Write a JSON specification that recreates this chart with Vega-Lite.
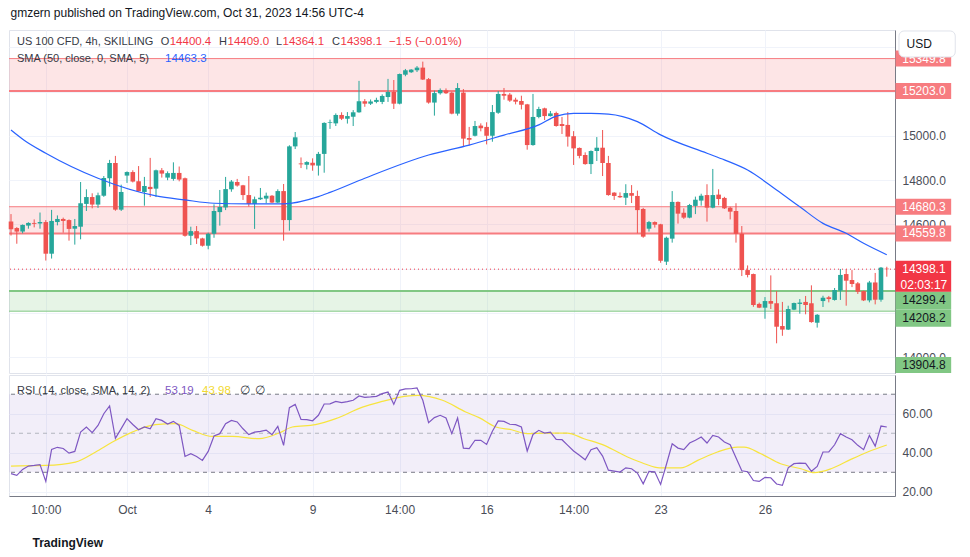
{
"$schema":"https://vega.github.io/schema/vega-lite/v6.json",
"background":"white",
"padding":{"left":7,"top":7,"right":5,"bottom":5},
"title":{"text":"gmzern published on TradingView.com, Oct 31, 2023 14:56 UTC-4","anchor":"start","frame":"bounds","font":"Liberation Sans","fontSize":12,"fontWeight":"normal","color":"#131722","offset":9.5,"dx":3},
"spacing":0,
"config":{
"view":{"stroke":"#e0e3eb","strokeWidth":1},
"scale":{"continuousPadding":0},
"axis":{"labelFont":"Liberation Sans","labelFontSize":12,"labelColor":"#131722","gridColor":"#f0f3fa","gridWidth":1,"ticks":false,"domainColor":"#787b86"},
"text":{"font":"Liberation Sans"}
},
"datasets":{
"candles":[
{"i":0,"open":14613,"high":14647,"low":14550,"close":14578},
{"i":1,"open":14584,"high":14588,"low":14513,"close":14568},
{"i":2,"open":14568,"high":14600,"low":14560,"close":14598},
{"i":3,"open":14595,"high":14610,"low":14581,"close":14607},
{"i":4,"open":14607,"high":14623,"low":14587,"close":14603},
{"i":5,"open":14604,"high":14654,"low":14581,"close":14611},
{"i":6,"open":14611,"high":14620,"low":14437,"close":14468},
{"i":7,"open":14468,"high":14666,"low":14446,"close":14616},
{"i":8,"open":14611,"high":14641,"low":14596,"close":14625},
{"i":9,"open":14625,"high":14631,"low":14563,"close":14616},
{"i":10,"open":14620,"high":14623,"low":14527,"close":14580},
{"i":11,"open":14581,"high":14625,"low":14509,"close":14593},
{"i":12,"open":14590,"high":14792,"low":14533,"close":14696},
{"i":13,"open":14693,"high":14759,"low":14661,"close":14724},
{"i":14,"open":14724,"high":14741,"low":14673,"close":14690},
{"i":15,"open":14690,"high":14744,"low":14675,"close":14732},
{"i":16,"open":14730,"high":14819,"low":14725,"close":14810},
{"i":17,"open":14809,"high":14892,"low":14771,"close":14878},
{"i":18,"open":14878,"high":14910,"low":14662,"close":14667},
{"i":19,"open":14667,"high":14780,"low":14661,"close":14747},
{"i":20,"open":14821,"high":14840,"low":14788,"close":14837},
{"i":21,"open":14837,"high":14845,"low":14790,"close":14794},
{"i":22,"open":14795,"high":14864,"low":14748,"close":14750},
{"i":23,"open":14747,"high":14815,"low":14685,"close":14774},
{"i":24,"open":14770,"high":14901,"low":14724,"close":14760},
{"i":25,"open":14762,"high":14848,"low":14724,"close":14845},
{"i":26,"open":14845,"high":14855,"low":14812,"close":14830},
{"i":27,"open":14812,"high":14840,"low":14800,"close":14832},
{"i":28,"open":14806,"high":14881,"low":14798,"close":14833},
{"i":29,"open":14833,"high":14862,"low":14795,"close":14803},
{"i":30,"open":14809,"high":14812,"low":14545,"close":14549},
{"i":31,"open":14549,"high":14590,"low":14507,"close":14570},
{"i":32,"open":14570,"high":14593,"low":14512,"close":14537},
{"i":33,"open":14537,"high":14540,"low":14500,"close":14504},
{"i":34,"open":14504,"high":14563,"low":14488,"close":14558},
{"i":35,"open":14558,"high":14691,"low":14540,"close":14661},
{"i":36,"open":14656,"high":14756,"low":14595,"close":14679},
{"i":37,"open":14677,"high":14815,"low":14665,"close":14760},
{"i":38,"open":14759,"high":14801,"low":14748,"close":14794},
{"i":39,"open":14792,"high":14806,"low":14771,"close":14776},
{"i":40,"open":14777,"high":14779,"low":14711,"close":14733},
{"i":41,"open":14733,"high":14819,"low":14681,"close":14693},
{"i":42,"open":14693,"high":14726,"low":14580,"close":14714},
{"i":43,"open":14714,"high":14765,"low":14711,"close":14721},
{"i":44,"open":14717,"high":14744,"low":14696,"close":14730},
{"i":45,"open":14730,"high":14733,"low":14697,"close":14699},
{"i":46,"open":14699,"high":14759,"low":14697,"close":14751},
{"i":47,"open":14751,"high":14783,"low":14527,"close":14620},
{"i":48,"open":14620,"high":14958,"low":14572,"close":14953},
{"i":49,"open":14953,"high":15018,"low":14941,"close":14994},
{"i":50,"open":14876,"high":14903,"low":14855,"close":14872},
{"i":51,"open":14870,"high":14886,"low":14849,"close":14882},
{"i":52,"open":14879,"high":14899,"low":14843,"close":14867},
{"i":53,"open":14866,"high":14928,"low":14821,"close":14919},
{"i":54,"open":14919,"high":15062,"low":14834,"close":15059},
{"i":55,"open":15059,"high":15074,"low":15032,"close":15062},
{"i":56,"open":15057,"high":15102,"low":15045,"close":15095},
{"i":57,"open":15095,"high":15107,"low":15072,"close":15078},
{"i":58,"open":15078,"high":15108,"low":15056,"close":15090},
{"i":59,"open":15087,"high":15117,"low":15045,"close":15107},
{"i":60,"open":15107,"high":15249,"low":15105,"close":15157},
{"i":61,"open":15157,"high":15167,"low":15132,"close":15146},
{"i":62,"open":15146,"high":15165,"low":15140,"close":15156},
{"i":63,"open":15154,"high":15173,"low":15148,"close":15163},
{"i":64,"open":15154,"high":15188,"low":15144,"close":15181},
{"i":65,"open":15176,"high":15258,"low":15154,"close":15199},
{"i":66,"open":15199,"high":15253,"low":15122,"close":15146},
{"i":67,"open":15146,"high":15282,"low":15143,"close":15280},
{"i":68,"open":15277,"high":15303,"low":15270,"close":15297},
{"i":69,"open":15288,"high":15302,"low":15285,"close":15300},
{"i":70,"open":15297,"high":15316,"low":15289,"close":15309},
{"i":71,"open":15309,"high":15336,"low":15253,"close":15255},
{"i":72,"open":15257,"high":15262,"low":15146,"close":15151},
{"i":73,"open":15151,"high":15205,"low":15092,"close":15194},
{"i":74,"open":15193,"high":15215,"low":15187,"close":15208},
{"i":75,"open":15206,"high":15215,"low":15190,"close":15193},
{"i":76,"open":15196,"high":15200,"low":15098,"close":15101},
{"i":77,"open":15101,"high":15239,"low":15092,"close":15217},
{"i":78,"open":15196,"high":15212,"low":14950,"close":14988},
{"i":79,"open":14991,"high":15041,"low":14958,"close":14983},
{"i":80,"open":15001,"high":15068,"low":14998,"close":15045},
{"i":81,"open":15047,"high":15057,"low":15021,"close":15035},
{"i":82,"open":15041,"high":15062,"low":14962,"close":15001},
{"i":83,"open":15001,"high":15140,"low":14974,"close":15108},
{"i":84,"open":15105,"high":15203,"low":15100,"close":15190},
{"i":85,"open":15190,"high":15217,"low":15164,"close":15182},
{"i":86,"open":15187,"high":15194,"low":15154,"close":15160},
{"i":87,"open":15164,"high":15173,"low":15143,"close":15155},
{"i":88,"open":15158,"high":15182,"low":15120,"close":15141},
{"i":89,"open":15143,"high":15145,"low":14938,"close":14959},
{"i":90,"open":14959,"high":15190,"low":14956,"close":15086},
{"i":91,"open":15086,"high":15132,"low":15080,"close":15122},
{"i":92,"open":15125,"high":15128,"low":15072,"close":15090},
{"i":93,"open":15090,"high":15113,"low":15088,"close":15102},
{"i":94,"open":15104,"high":15110,"low":15042,"close":15045},
{"i":95,"open":15054,"high":15086,"low":15009,"close":15045},
{"i":96,"open":15050,"high":15108,"low":14952,"close":14997},
{"i":97,"open":14999,"high":15022,"low":14869,"close":14944},
{"i":98,"open":14946,"high":14948,"low":14899,"close":14910},
{"i":99,"open":14914,"high":14926,"low":14870,"close":14873},
{"i":100,"open":14873,"high":14935,"low":14828,"close":14932},
{"i":101,"open":14932,"high":14995,"low":14887,"close":14947},
{"i":102,"open":14947,"high":15027,"low":14819,"close":14878},
{"i":103,"open":14878,"high":14910,"low":14730,"close":14733},
{"i":104,"open":14744,"high":14746,"low":14711,"close":14729},
{"i":105,"open":14729,"high":14745,"low":14720,"close":14723},
{"i":106,"open":14721,"high":14782,"low":14688,"close":14742},
{"i":107,"open":14742,"high":14778,"low":14697,"close":14730},
{"i":108,"open":14729,"high":14753,"low":14560,"close":14665},
{"i":109,"open":14670,"high":14675,"low":14540,"close":14545},
{"i":110,"open":14581,"high":14616,"low":14568,"close":14611},
{"i":111,"open":14611,"high":14614,"low":14586,"close":14599},
{"i":112,"open":14601,"high":14603,"low":14427,"close":14436},
{"i":113,"open":14432,"high":14545,"low":14417,"close":14540},
{"i":114,"open":14536,"high":14751,"low":14518,"close":14702},
{"i":115,"open":14702,"high":14704,"low":14604,"close":14649},
{"i":116,"open":14653,"high":14673,"low":14625,"close":14631},
{"i":117,"open":14631,"high":14693,"low":14628,"close":14688},
{"i":118,"open":14684,"high":14726,"low":14647,"close":14712},
{"i":119,"open":14708,"high":14739,"low":14685,"close":14730},
{"i":120,"open":14733,"high":14782,"low":14613,"close":14676},
{"i":121,"open":14676,"high":14851,"low":14673,"close":14733},
{"i":122,"open":14735,"high":14759,"low":14687,"close":14715},
{"i":123,"open":14720,"high":14725,"low":14670,"close":14673},
{"i":124,"open":14676,"high":14680,"low":14623,"close":14658},
{"i":125,"open":14661,"high":14696,"low":14518,"close":14558},
{"i":126,"open":14558,"high":14593,"low":14367,"close":14394},
{"i":127,"open":14394,"high":14415,"low":14361,"close":14372},
{"i":128,"open":14376,"high":14378,"low":14228,"close":14236},
{"i":129,"open":14241,"high":14247,"low":14222,"close":14224},
{"i":130,"open":14224,"high":14272,"low":14174,"close":14254},
{"i":131,"open":14254,"high":14370,"low":14218,"close":14242},
{"i":132,"open":14244,"high":14299,"low":14063,"close":14138},
{"i":133,"open":14141,"high":14250,"low":14097,"close":14125},
{"i":134,"open":14125,"high":14233,"low":14123,"close":14218},
{"i":135,"open":14215,"high":14247,"low":14213,"close":14245},
{"i":136,"open":14241,"high":14263,"low":14197,"close":14247},
{"i":137,"open":14250,"high":14277,"low":14194,"close":14236},
{"i":138,"open":14244,"high":14325,"low":14156,"close":14159},
{"i":139,"open":14156,"high":14195,"low":14134,"close":14192},
{"i":140,"open":14254,"high":14278,"low":14227,"close":14269},
{"i":141,"open":14271,"high":14277,"low":14248,"close":14263},
{"i":142,"open":14259,"high":14313,"low":14256,"close":14304},
{"i":143,"open":14301,"high":14399,"low":14259,"close":14372},
{"i":144,"open":14376,"high":14399,"low":14233,"close":14346},
{"i":145,"open":14349,"high":14394,"low":14317,"close":14331},
{"i":146,"open":14334,"high":14340,"low":14286,"close":14296},
{"i":147,"open":14299,"high":14301,"low":14254,"close":14257},
{"i":148,"open":14257,"high":14345,"low":14248,"close":14338},
{"i":149,"open":14338,"high":14381,"low":14239,"close":14260},
{"i":150,"open":14260,"high":14408,"low":14251,"close":14405},
{"i":151,"open":14400.4,"high":14409.0,"low":14364.1,"close":14398.1}
],
"sma":[
{"i":0,"sma":15027},{"i":2.2,"sma":14982},{"i":6,"sma":14922},{"i":15,"sma":14809},{"i":25,"sma":14729},{"i":30,"sma":14711},{"i":35,"sma":14696},{"i":41,"sma":14693},{"i":47,"sma":14693},{"i":53,"sma":14726},{"i":55,"sma":14745},{"i":61,"sma":14809},{"i":72,"sma":14914},{"i":79,"sma":14959},{"i":85,"sma":15004},{"i":91,"sma":15050},{"i":94,"sma":15090},{"i":97,"sma":15102},{"i":100,"sma":15102},{"i":103,"sma":15099},{"i":108,"sma":15065},{"i":112,"sma":15005},{"i":120,"sma":14922},{"i":123,"sma":14892},{"i":127,"sma":14846},{"i":132,"sma":14756},{"i":136,"sma":14680},{"i":140,"sma":14605},{"i":144,"sma":14560},{"i":147,"sma":14515},{"i":151,"sma":14463.3}
],
"rsi":[
{"i":0,"rsi":29.3},{"i":1,"rsi":28.4},{"i":2,"rsi":31.5},{"i":3,"rsi":33.2},{"i":4,"rsi":33.5},{"i":5,"rsi":33.9},{"i":6,"rsi":25.3},{"i":7,"rsi":41.7},{"i":8,"rsi":42.8},{"i":9,"rsi":42.2},
{"i":10,"rsi":39.8},{"i":11,"rsi":40.7},{"i":12,"rsi":50.6},{"i":13,"rsi":53.2},{"i":14,"rsi":50.3},{"i":15,"rsi":54.0},{"i":16,"rsi":60.0},{"i":17,"rsi":64.0},{"i":18,"rsi":47.4},{"i":19,"rsi":52.4},
{"i":20,"rsi":57.5},{"i":21,"rsi":54.5},{"i":22,"rsi":51.8},{"i":23,"rsi":53.2},{"i":24,"rsi":52.3},{"i":25,"rsi":57.5},{"i":26,"rsi":56.6},{"i":27,"rsi":54.7},{"i":28,"rsi":56.1},{"i":29,"rsi":54.0},
{"i":30,"rsi":38.1},{"i":31,"rsi":39.5},{"i":32,"rsi":38.1},{"i":33,"rsi":36.1},{"i":34,"rsi":40.7},{"i":35,"rsi":48.6},{"i":36,"rsi":49.8},{"i":37,"rsi":54.9},{"i":38,"rsi":56.6},{"i":39,"rsi":55.8},
{"i":40,"rsi":52.3},{"i":41,"rsi":49.3},{"i":42,"rsi":50.6},{"i":43,"rsi":51.0},{"i":44,"rsi":51.6},{"i":45,"rsi":49.3},{"i":46,"rsi":53.5},{"i":47,"rsi":43.8},{"i":48,"rsi":63.1},{"i":49,"rsi":64.8},
{"i":50,"rsi":57.1},{"i":51,"rsi":57.0},{"i":52,"rsi":56.4},{"i":53,"rsi":59.2},{"i":54,"rsi":65.0},{"i":55,"rsi":65.1},{"i":56,"rsi":66.3},{"i":57,"rsi":65.7},{"i":58,"rsi":66.2},{"i":59,"rsi":66.9},
{"i":60,"rsi":69.1},{"i":61,"rsi":68.4},{"i":62,"rsi":68.6},{"i":63,"rsi":68.9},{"i":64,"rsi":70.3},{"i":65,"rsi":71.1},{"i":66,"rsi":64.8},{"i":67,"rsi":72.0},{"i":68,"rsi":72.7},{"i":69,"rsi":72.8},
{"i":70,"rsi":73.2},{"i":71,"rsi":66.9},{"i":72,"rsi":55.4},{"i":73,"rsi":58.0},{"i":74,"rsi":59.2},{"i":75,"rsi":57.8},{"i":76,"rsi":49.8},{"i":77,"rsi":57.8},{"i":78,"rsi":42.4},{"i":79,"rsi":42.1},
{"i":80,"rsi":46.4},{"i":81,"rsi":46.4},{"i":82,"rsi":44.3},{"i":83,"rsi":51.0},{"i":84,"rsi":56.3},{"i":85,"rsi":56.1},{"i":86,"rsi":54.6},{"i":87,"rsi":54.4},{"i":88,"rsi":53.2},{"i":89,"rsi":40.9},
{"i":90,"rsi":49.4},{"i":91,"rsi":51.5},{"i":92,"rsi":50.1},{"i":93,"rsi":50.6},{"i":94,"rsi":46.9},{"i":95,"rsi":46.7},{"i":96,"rsi":43.8},{"i":97,"rsi":40.9},{"i":98,"rsi":38.7},{"i":99,"rsi":36.4},
{"i":100,"rsi":41.6},{"i":101,"rsi":42.6},{"i":102,"rsi":38.3},{"i":103,"rsi":31.1},{"i":104,"rsi":30.6},{"i":105,"rsi":30.1},{"i":106,"rsi":32.3},{"i":107,"rsi":31.8},{"i":108,"rsi":29.6},{"i":109,"rsi":24.1},
{"i":110,"rsi":30.5},{"i":111,"rsi":30.3},{"i":112,"rsi":23.8},{"i":113,"rsi":34.0},{"i":114,"rsi":44.6},{"i":115,"rsi":42.4},{"i":116,"rsi":41.6},{"i":117,"rsi":45.0},{"i":118,"rsi":46.4},{"i":119,"rsi":48.1},
{"i":120,"rsi":45.0},{"i":121,"rsi":48.9},{"i":122,"rsi":48.1},{"i":123,"rsi":45.5},{"i":124,"rsi":44.1},{"i":125,"rsi":37.5},{"i":126,"rsi":30.8},{"i":127,"rsi":30.3},{"i":128,"rsi":25.8},{"i":129,"rsi":25.3},
{"i":130,"rsi":27.4},{"i":131,"rsi":27.2},{"i":132,"rsi":24.0},{"i":133,"rsi":23.3},{"i":134,"rsi":32.3},{"i":135,"rsi":34.4},{"i":136,"rsi":34.7},{"i":137,"rsi":34.6},{"i":138,"rsi":30.5},{"i":139,"rsi":33.0},
{"i":140,"rsi":40.4},{"i":141,"rsi":40.4},{"i":142,"rsi":44.1},{"i":143,"rsi":49.8},{"i":144,"rsi":48.1},{"i":145,"rsi":46.7},{"i":146,"rsi":43.8},{"i":147,"rsi":41.6},{"i":148,"rsi":48.9},{"i":149,"rsi":43.4},
{"i":150,"rsi":53.7},{"i":151,"rsi":53.19}
],
"rsima":[
{"i":0,"ma":33.2},{"i":3.7,"ma":33.4},{"i":6,"ma":33.5},{"i":11.1,"ma":35.2},{"i":14.6,"ma":40.4},{"i":17.5,"ma":45.5},{"i":20.9,"ma":50.6},{"i":24.9,"ma":54.4},{"i":28.4,"ma":54.9},{"i":31.3,"ma":51.5},{"i":34.7,"ma":48.4},{"i":38.2,"ma":48.4},{"i":42.8,"ma":47.2},{"i":46.2,"ma":50.1},{"i":48.5,"ma":53.2},{"i":52.5,"ma":54.4},{"i":56,"ma":57.5},{"i":60.6,"ma":63.4},{"i":64,"ma":66.3},{"i":66.9,"ma":68.4},{"i":70.1,"ma":69.4},{"i":74.4,"ma":66.9},{"i":78.4,"ma":60.9},{"i":80.7,"ma":58.0},{"i":83.6,"ma":53.2},{"i":86.3,"ma":51.8},{"i":89,"ma":49.8},{"i":91.9,"ma":50.1},{"i":95.9,"ma":50.1},{"i":98.8,"ma":47.2},{"i":102.3,"ma":43.8},{"i":106.3,"ma":37.8},{"i":109.2,"ma":34.4},{"i":111.8,"ma":32.3},{"i":115.5,"ma":32.3},{"i":118.4,"ma":36.1},{"i":121.8,"ma":40.4},{"i":125.3,"ma":42.9},{"i":126.4,"ma":42.9},{"i":129.3,"ma":39.5},{"i":132.7,"ma":34.4},{"i":136.2,"ma":31.8},{"i":138.5,"ma":29.8},{"i":141.4,"ma":31.8},{"i":144.8,"ma":36.6},{"i":147.7,"ma":40.4},{"i":151,"ma":43.98}
],
"zones":[
{"lo":15203.0,"hi":15349.8,"zone":"resistance"},
{"lo":14559.8,"hi":14680.3,"zone":"resistance"},
{"lo":14208.2,"hi":14299.4,"zone":"support"}
],
"labels":[
{"price":15349.8,"zone":"resistance"},
{"price":15203.0,"zone":"resistance"},
{"price":14680.3,"zone":"resistance"},
{"price":14559.8,"zone":"resistance"},
{"price":14299.4,"zone":"support"},
{"price":14208.2,"zone":"support"},
{"price":13904.8,"zone":"support"}
],
"last":[{"close":14398.1}]
},
"vconcat":[
{
"width":886,"height":343,
"layer":[
{"data":{"name":"zones"},"mark":{"type":"rect","opacity":0.2},
 "encoding":{"y":{"field":"lo","type":"quantitative","scale":{"domain":[13928.8,15479],"nice":false,"zero":false,"padding":0}},"y2":{"field":"hi"},
 "color":{"condition":{"test":"datum.zone=='resistance'","value":"#f77c80"},"value":"#81c784"}}},
{"data":{"name":"zones"},"mark":{"type":"rule"},
 "encoding":{"y":{"field":"lo","type":"quantitative","scale":{"domain":[13928.8,15479],"nice":false,"zero":false,"padding":0}},
 "color":{"condition":{"test":"datum.zone=='resistance'","value":"#f77c80"},"value":"#81c784"},
 "strokeWidth":{"condition":{"test":"datum.zone=='resistance'","value":2},"value":1}}},
{"data":{"name":"zones"},"mark":{"type":"rule"},
 "encoding":{"y":{"field":"hi","type":"quantitative","scale":{"domain":[13928.8,15479],"nice":false,"zero":false,"padding":0}},
 "color":{"condition":{"test":"datum.zone=='resistance'","value":"#f77c80"},"value":"#81c784"},
 "strokeWidth":{"condition":{"test":"datum.zone=='resistance'","value":1},"value":2}}},
{"data":{"name":"last"},"mark":{"type":"rule","color":"#f23645","strokeDash":[1,3],"strokeWidth":1},
 "encoding":{"y":{"field":"close","type":"quantitative","scale":{"domain":[13928.8,15479],"nice":false,"zero":false,"padding":0}}}},
{"data":{"name":"candles"},"mark":{"type":"rule","strokeWidth":1},
 "encoding":{
 "x":{"field":"i","type":"quantitative","scale":{"domain":[-0.345,152.414],"nice":false,"zero":false,"padding":0},
  "axis":{"values":[6,20,34,52,67,82,97,112,130],"labels":false,"ticks":false,"domain":false,"grid":true,"title":null,"zindex":0}},
 "y":{"field":"low","type":"quantitative","scale":{"domain":[13928.8,15479],"nice":false,"zero":false,"padding":0},
  "axis":{"orient":"right","values":[14000,14200,14400,14600,14800,15000,15200,15400],"labelExpr":"(datum.value==14200||datum.value==14400||datum.value==15200||datum.value==15400)?'':format(datum.value,'.1f')","grid":true,"ticks":false,"domain":true,"labelPadding":7,"labelColor":"#4a4d57","title":null,"zindex":0}},
 "y2":{"field":"high"},
 "color":{"condition":{"test":"datum.close>=datum.open","value":"#26a69a"},"value":"#ef5350"}}},
{"data":{"name":"candles"},"mark":{"type":"bar","size":4.6,"orient":"vertical"},
 "encoding":{
 "x":{"field":"i","type":"quantitative","scale":{"domain":[-0.345,152.414],"nice":false,"zero":false,"padding":0}},
 "y":{"field":"open","type":"quantitative","scale":{"domain":[13928.8,15479],"nice":false,"zero":false,"padding":0}},
 "y2":{"field":"close"},
 "color":{"condition":{"test":"datum.close>=datum.open","value":"#26a69a"},"value":"#ef5350"}}},
{"data":{"name":"sma"},"mark":{"type":"line","color":"#2962ff","strokeWidth":1.2,"interpolate":"monotone"},
 "encoding":{
 "x":{"field":"i","type":"quantitative","scale":{"domain":[-0.345,152.414],"nice":false,"zero":false,"padding":0}},
 "y":{"field":"sma","type":"quantitative","scale":{"domain":[13928.8,15479],"nice":false,"zero":false,"padding":0}}}},
{"data":{"values":[{}]},"mark":{"type":"text","text":"US 100 CFD, 4h, SKILLING","align":"left","baseline":"middle","fontSize":11,"color":"#363a45"},
 "encoding":{"x":{"datum":1.03,"type":"quantitative","scale":{"domain":[-0.345,152.414],"nice":false,"zero":false,"padding":0}},"y":{"datum":15423.4,"type":"quantitative","scale":{"domain":[13928.8,15479],"nice":false,"zero":false,"padding":0}}}},
{"data":{"values":[{}]},"mark":{"type":"text","text":"O","align":"left","baseline":"middle","fontSize":11,"color":"#363a45"},
 "encoding":{"x":{"datum":25.81,"type":"quantitative","scale":{"domain":[-0.345,152.414],"nice":false,"zero":false,"padding":0}},"y":{"datum":15423.4,"type":"quantitative","scale":{"domain":[13928.8,15479],"nice":false,"zero":false,"padding":0}}}},
{"data":{"values":[{}]},"mark":{"type":"text","text":"14400.4","align":"left","baseline":"middle","fontSize":11.5,"color":"#f23645"},
 "encoding":{"x":{"datum":27.36,"type":"quantitative","scale":{"domain":[-0.345,152.414],"nice":false,"zero":false,"padding":0}},"y":{"datum":15423.4,"type":"quantitative","scale":{"domain":[13928.8,15479],"nice":false,"zero":false,"padding":0}}}},
{"data":{"values":[{}]},"mark":{"type":"text","text":"H","align":"left","baseline":"middle","fontSize":11,"color":"#363a45"},
 "encoding":{"x":{"datum":35.86,"type":"quantitative","scale":{"domain":[-0.345,152.414],"nice":false,"zero":false,"padding":0}},"y":{"datum":15423.4,"type":"quantitative","scale":{"domain":[13928.8,15479],"nice":false,"zero":false,"padding":0}}}},
{"data":{"values":[{}]},"mark":{"type":"text","text":"14409.0","align":"left","baseline":"middle","fontSize":11.5,"color":"#f23645"},
 "encoding":{"x":{"datum":37.33,"type":"quantitative","scale":{"domain":[-0.345,152.414],"nice":false,"zero":false,"padding":0}},"y":{"datum":15423.4,"type":"quantitative","scale":{"domain":[13928.8,15479],"nice":false,"zero":false,"padding":0}}}},
{"data":{"values":[{}]},"mark":{"type":"text","text":"L","align":"left","baseline":"middle","fontSize":11,"color":"#363a45"},
 "encoding":{"x":{"datum":45.69,"type":"quantitative","scale":{"domain":[-0.345,152.414],"nice":false,"zero":false,"padding":0}},"y":{"datum":15423.4,"type":"quantitative","scale":{"domain":[13928.8,15479],"nice":false,"zero":false,"padding":0}}}},
{"data":{"values":[{}]},"mark":{"type":"text","text":"14364.1","align":"left","baseline":"middle","fontSize":11.5,"color":"#f23645"},
 "encoding":{"x":{"datum":46.81,"type":"quantitative","scale":{"domain":[-0.345,152.414],"nice":false,"zero":false,"padding":0}},"y":{"datum":15423.4,"type":"quantitative","scale":{"domain":[13928.8,15479],"nice":false,"zero":false,"padding":0}}}},
{"data":{"values":[{}]},"mark":{"type":"text","text":"C","align":"left","baseline":"middle","fontSize":11,"color":"#363a45"},
 "encoding":{"x":{"datum":55.34,"type":"quantitative","scale":{"domain":[-0.345,152.414],"nice":false,"zero":false,"padding":0}},"y":{"datum":15423.4,"type":"quantitative","scale":{"domain":[13928.8,15479],"nice":false,"zero":false,"padding":0}}}},
{"data":{"values":[{}]},"mark":{"type":"text","text":"14398.1","align":"left","baseline":"middle","fontSize":11.5,"color":"#f23645"},
 "encoding":{"x":{"datum":56.81,"type":"quantitative","scale":{"domain":[-0.345,152.414],"nice":false,"zero":false,"padding":0}},"y":{"datum":15423.4,"type":"quantitative","scale":{"domain":[13928.8,15479],"nice":false,"zero":false,"padding":0}}}},
{"data":{"values":[{}]},"mark":{"type":"text","text":"−1.5 (−0.01%)","align":"left","baseline":"middle","fontSize":11.5,"color":"#f23645"},
 "encoding":{"x":{"datum":65.17,"type":"quantitative","scale":{"domain":[-0.345,152.414],"nice":false,"zero":false,"padding":0}},"y":{"datum":15423.4,"type":"quantitative","scale":{"domain":[13928.8,15479],"nice":false,"zero":false,"padding":0}}}},
{"data":{"values":[{}]},"mark":{"type":"text","text":"SMA (50, close, 0, SMA, 5)","align":"left","baseline":"middle","fontSize":11,"color":"#363a45"},
 "encoding":{"x":{"datum":1.03,"type":"quantitative","scale":{"domain":[-0.345,152.414],"nice":false,"zero":false,"padding":0}},"y":{"datum":15346.6,"type":"quantitative","scale":{"domain":[13928.8,15479],"nice":false,"zero":false,"padding":0}}}},
{"data":{"values":[{}]},"mark":{"type":"text","text":"14463.3","align":"left","baseline":"middle","fontSize":11.5,"color":"#2962ff"},
 "encoding":{"x":{"datum":26.55,"type":"quantitative","scale":{"domain":[-0.345,152.414],"nice":false,"zero":false,"padding":0}},"y":{"datum":15346.6,"type":"quantitative","scale":{"domain":[13928.8,15479],"nice":false,"zero":false,"padding":0}}}},
{"data":{"name":"labels"},"transform":[{"filter":"datum.price>14500"}],"mark":{"type":"bar","orient":"horizontal","size":16,"color":"#f77c80"},
 "encoding":{"x":{"datum":152.5,"type":"quantitative","scale":{"domain":[-0.345,152.414],"nice":false,"zero":false,"padding":0}},"x2":{"datum":162.1},
 "y":{"field":"price","type":"quantitative","scale":{"domain":[13928.8,15479],"nice":false,"zero":false,"padding":0}}}},
{"data":{"name":"labels"},"transform":[{"filter":"datum.price>14500"}],"mark":{"type":"text","color":"white","fontSize":12,"align":"center","baseline":"middle"},
 "encoding":{"x":{"datum":157.4,"type":"quantitative","scale":{"domain":[-0.345,152.414],"nice":false,"zero":false,"padding":0}},
 "y":{"field":"price","type":"quantitative","scale":{"domain":[13928.8,15479],"nice":false,"zero":false,"padding":0}},
 "text":{"field":"price","type":"quantitative","format":".1f"}}},
{"data":{"name":"labels"},"transform":[{"filter":"datum.price==14299.4"}],"mark":{"type":"bar","orient":"horizontal","size":17.5,"color":"#81c784","yOffset":9.3},
 "encoding":{"x":{"datum":152.5,"type":"quantitative","scale":{"domain":[-0.345,152.414],"nice":false,"zero":false,"padding":0}},"x2":{"datum":162.1},
 "y":{"field":"price","type":"quantitative","scale":{"domain":[13928.8,15479],"nice":false,"zero":false,"padding":0}}}},
{"data":{"name":"labels"},"transform":[{"filter":"datum.price==14299.4"}],"mark":{"type":"text","color":"#131722","fontSize":12,"align":"center","baseline":"middle","yOffset":9.3},
 "encoding":{"x":{"datum":157.4,"type":"quantitative","scale":{"domain":[-0.345,152.414],"nice":false,"zero":false,"padding":0}},
 "y":{"field":"price","type":"quantitative","scale":{"domain":[13928.8,15479],"nice":false,"zero":false,"padding":0}},
 "text":{"field":"price","type":"quantitative","format":".1f"}}},
{"data":{"name":"labels"},"transform":[{"filter":"datum.price==14208.2"}],"mark":{"type":"bar","orient":"horizontal","size":17.5,"color":"#81c784","yOffset":6.8},
 "encoding":{"x":{"datum":152.5,"type":"quantitative","scale":{"domain":[-0.345,152.414],"nice":false,"zero":false,"padding":0}},"x2":{"datum":162.1},
 "y":{"field":"price","type":"quantitative","scale":{"domain":[13928.8,15479],"nice":false,"zero":false,"padding":0}}}},
{"data":{"name":"labels"},"transform":[{"filter":"datum.price==14208.2"}],"mark":{"type":"text","color":"#131722","fontSize":12,"align":"center","baseline":"middle","yOffset":6.8},
 "encoding":{"x":{"datum":157.4,"type":"quantitative","scale":{"domain":[-0.345,152.414],"nice":false,"zero":false,"padding":0}},
 "y":{"field":"price","type":"quantitative","scale":{"domain":[13928.8,15479],"nice":false,"zero":false,"padding":0}},
 "text":{"field":"price","type":"quantitative","format":".1f"}}},
{"data":{"name":"labels"},"transform":[{"filter":"datum.price==13904.8"}],"mark":{"type":"bar","orient":"horizontal","size":16,"color":"#81c784","yOffset":-13.3},
 "encoding":{"x":{"datum":152.5,"type":"quantitative","scale":{"domain":[-0.345,152.414],"nice":false,"zero":false,"padding":0}},"x2":{"datum":162.1},
 "y":{"field":"price","type":"quantitative","scale":{"domain":[13928.8,15479],"nice":false,"zero":false,"padding":0}}}},
{"data":{"name":"labels"},"transform":[{"filter":"datum.price==13904.8"}],"mark":{"type":"text","color":"#131722","fontSize":12,"align":"center","baseline":"middle","yOffset":-13.3},
 "encoding":{"x":{"datum":157.4,"type":"quantitative","scale":{"domain":[-0.345,152.414],"nice":false,"zero":false,"padding":0}},
 "y":{"field":"price","type":"quantitative","scale":{"domain":[13928.8,15479],"nice":false,"zero":false,"padding":0}},
 "text":{"field":"price","type":"quantitative","format":".1f"}}},
{"data":{"name":"last"},"mark":{"type":"bar","orient":"horizontal","size":31,"color":"#f23645","yOffset":7.2},
 "encoding":{"x":{"datum":152.5,"type":"quantitative","scale":{"domain":[-0.345,152.414],"nice":false,"zero":false,"padding":0}},"x2":{"datum":162.1},
 "y":{"field":"close","type":"quantitative","scale":{"domain":[13928.8,15479],"nice":false,"zero":false,"padding":0}}}},
{"data":{"name":"last"},"mark":{"type":"text","color":"white","fontSize":12,"align":"center","baseline":"middle","yOffset":-0.5},
 "encoding":{"x":{"datum":157.4,"type":"quantitative","scale":{"domain":[-0.345,152.414],"nice":false,"zero":false,"padding":0}},
 "y":{"field":"close","type":"quantitative","scale":{"domain":[13928.8,15479],"nice":false,"zero":false,"padding":0}},
 "text":{"field":"close","type":"quantitative","format":".1f"}}},
{"data":{"name":"last"},"mark":{"type":"text","text":"02:03:17","color":"white","fontSize":12,"align":"center","baseline":"middle","yOffset":15.5},
 "encoding":{"x":{"datum":157.4,"type":"quantitative","scale":{"domain":[-0.345,152.414],"nice":false,"zero":false,"padding":0}},
 "y":{"field":"close","type":"quantitative","scale":{"domain":[13928.8,15479],"nice":false,"zero":false,"padding":0}}}},
{"data":{"values":[{}]},"mark":{"type":"rect","fill":"white","stroke":"#e0e3eb","strokeWidth":1,"cornerRadius":5},
 "encoding":{"x":{"datum":153.1,"type":"quantitative","scale":{"domain":[-0.345,152.414],"nice":false,"zero":false,"padding":0}},"x2":{"datum":162.8},
 "y":{"datum":15474.6,"type":"quantitative","scale":{"domain":[13928.8,15479],"nice":false,"zero":false,"padding":0}},"y2":{"datum":15357.1}}},
{"data":{"values":[{}]},"mark":{"type":"text","text":"USD","color":"#131722","fontSize":12,"align":"center","baseline":"middle"},
 "encoding":{"x":{"datum":156.6,"type":"quantitative","scale":{"domain":[-0.345,152.414],"nice":false,"zero":false,"padding":0}},
 "y":{"datum":15415.7,"type":"quantitative","scale":{"domain":[13928.8,15479],"nice":false,"zero":false,"padding":0}}}}
]
},
{
"width":886,"height":121,
"layer":[
{"data":{"values":[{}]},"mark":{"type":"rect","color":"#7e57c2","opacity":0.1},
 "encoding":{"y":{"datum":70,"type":"quantitative","scale":{"domain":[17.85,79.85],"nice":false,"zero":false,"padding":0}},"y2":{"datum":30}}},
{"data":{"values":[{}]},"mark":{"type":"rule","color":"#787b86","strokeDash":[4,4],"strokeWidth":1},
 "encoding":{"y":{"datum":70,"type":"quantitative","scale":{"domain":[17.85,79.85],"nice":false,"zero":false,"padding":0}}}},
{"data":{"values":[{}]},"mark":{"type":"rule","color":"#787b86","strokeDash":[4,4],"strokeWidth":1},
 "encoding":{"y":{"datum":30,"type":"quantitative","scale":{"domain":[17.85,79.85],"nice":false,"zero":false,"padding":0}}}},
{"data":{"values":[{}]},"mark":{"type":"rule","color":"#b2b5be","strokeDash":[4,4],"strokeWidth":1},
 "encoding":{"y":{"datum":50,"type":"quantitative","scale":{"domain":[17.85,79.85],"nice":false,"zero":false,"padding":0}}}},
{"data":{"name":"rsima"},"mark":{"type":"line","color":"#f7e43f","strokeWidth":1.2,"interpolate":"monotone"},
 "encoding":{
 "x":{"field":"i","type":"quantitative","scale":{"domain":[-0.345,152.414],"nice":false,"zero":false,"padding":0}},
 "y":{"field":"ma","type":"quantitative","scale":{"domain":[17.85,79.85],"nice":false,"zero":false,"padding":0}}}},
{"data":{"name":"rsi"},"mark":{"type":"line","color":"#7e57c2","strokeWidth":1.2},
 "encoding":{
 "x":{"field":"i","type":"quantitative","scale":{"domain":[-0.345,152.414],"nice":false,"zero":false,"padding":0},
  "axis":{"values":[6,20,34,52,67,82,97,112,130],"labelExpr":"datum.value==6?'10:00':datum.value==20?'Oct':datum.value==34?'4':datum.value==52?'9':datum.value==67?'14:00':datum.value==82?'16':datum.value==97?'14:00':datum.value==112?'23':'26'","grid":true,"domain":true,"ticks":false,"labelPadding":8,"labelColor":"#4a4d57","title":"TradingView","titleFont":"Liberation Sans","titleFontSize":12,"titleFontWeight":"bold","titleColor":"#131722","titleAnchor":"start","titleAlign":"left","titleX":23,"titleY":46,"titleBaseline":"middle","zindex":0}},
 "y":{"field":"rsi","type":"quantitative","scale":{"domain":[17.85,79.85],"nice":false,"zero":false,"padding":0},
  "axis":{"orient":"right","values":[20,40,60],"format":".2f","grid":true,"domain":true,"ticks":false,"labelPadding":7,"labelColor":"#4a4d57","title":null,"zindex":0}}}},
{"data":{"values":[{}]},"mark":{"type":"text","text":"RSI (14, close, SMA, 14, 2)","align":"left","baseline":"middle","fontSize":11,"color":"#363a45"},
 "encoding":{"x":{"datum":1.03,"type":"quantitative","scale":{"domain":[-0.345,152.414],"nice":false,"zero":false,"padding":0}},"y":{"datum":71.65,"type":"quantitative","scale":{"domain":[17.85,79.85],"nice":false,"zero":false,"padding":0}}}},
{"data":{"values":[{}]},"mark":{"type":"text","text":"53.19","align":"left","baseline":"middle","fontSize":11.5,"color":"#7e57c2"},
 "encoding":{"x":{"datum":26.55,"type":"quantitative","scale":{"domain":[-0.345,152.414],"nice":false,"zero":false,"padding":0}},"y":{"datum":71.65,"type":"quantitative","scale":{"domain":[17.85,79.85],"nice":false,"zero":false,"padding":0}}}},
{"data":{"values":[{}]},"mark":{"type":"text","text":"43.98","align":"left","baseline":"middle","fontSize":11.5,"color":"#f2d930"},
 "encoding":{"x":{"datum":32.93,"type":"quantitative","scale":{"domain":[-0.345,152.414],"nice":false,"zero":false,"padding":0}},"y":{"datum":71.65,"type":"quantitative","scale":{"domain":[17.85,79.85],"nice":false,"zero":false,"padding":0}}}},
{"data":{"values":[{}]},"mark":{"type":"text","text":"∅","align":"left","baseline":"middle","fontSize":11.5,"color":"#363a45"},
 "encoding":{"x":{"datum":39.48,"type":"quantitative","scale":{"domain":[-0.345,152.414],"nice":false,"zero":false,"padding":0}},"y":{"datum":71.65,"type":"quantitative","scale":{"domain":[17.85,79.85],"nice":false,"zero":false,"padding":0}}}},
{"data":{"values":[{}]},"mark":{"type":"text","text":"∅","align":"left","baseline":"middle","fontSize":11.5,"color":"#363a45"},
 "encoding":{"x":{"datum":42.07,"type":"quantitative","scale":{"domain":[-0.345,152.414],"nice":false,"zero":false,"padding":0}},"y":{"datum":71.65,"type":"quantitative","scale":{"domain":[17.85,79.85],"nice":false,"zero":false,"padding":0}}}}
]
}
]
}
